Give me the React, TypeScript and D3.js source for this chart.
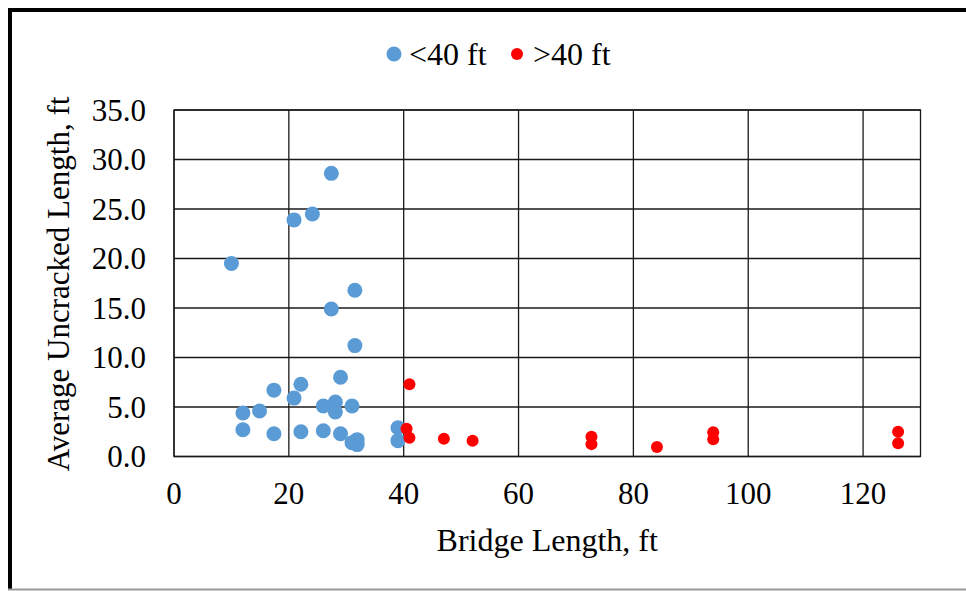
import { useRef, useEffect } from 'react'
import * as d3 from 'd3'

// <40 ft bridges
const shortX = [27.4, 24.1, 20.9, 10.0, 31.5, 27.4, 31.5, 29.0, 22.1, 17.4, 20.9, 14.9, 12.0, 26.0, 28.1, 28.1, 31.0, 12.0, 17.4, 22.1, 26.0, 29.0, 31.0, 31.9, 31.9, 39.0, 39.0]
const shortY = [28.6, 24.5, 23.9, 19.5, 16.8, 14.9, 11.2, 8.0, 7.3, 6.7, 5.9, 4.6, 4.4, 5.1, 5.5, 4.5, 5.1, 2.7, 2.3, 2.5, 2.6, 2.3, 1.4, 1.7, 1.2, 2.9, 1.6]

// >40 ft bridges
const longX = [41.0, 40.5, 41.0, 47.0, 52.0, 72.7, 72.7, 84.1, 93.9, 93.9, 126.1, 126.1]
const longY = [7.3, 2.8, 1.9, 1.8, 1.6, 2.0, 1.25, 0.95, 2.45, 1.75, 2.5, 1.35]

const xTicks = [0, 20, 40, 60, 80, 100, 120]
const yTicks = [0, 5, 10, 15, 20, 25, 30, 35]

const FONT = '"Liberation Serif", "Times New Roman", serif'

export default function App() {
  const svgRef = useRef<SVGSVGElement>(null)

  useEffect(() => {
    if (!svgRef.current) return
    const w = 966
    const h = 591
    const left = 174
    const right = 920.5
    const top = 110
    const bottom = 456.5

    const svg = d3.select(svgRef.current)
    svg.selectAll('*').remove()
    svg.attr('width', w).attr('height', h)

    svg.append('rect').attr('width', w).attr('height', h).attr('fill', '#fff')

    // outer frame (top + left dark, bottom grey)
    svg.append('line').attr('x1', 8).attr('x2', w).attr('y1', 10).attr('y2', 10)
      .attr('stroke', '#000').attr('stroke-width', 4)
    svg.append('line').attr('x1', 10).attr('x2', 10).attr('y1', 8).attr('y2', 589)
      .attr('stroke', '#000').attr('stroke-width', 4)
    svg.append('line').attr('x1', 8).attr('x2', w).attr('y1', 589.5).attr('y2', 589.5)
      .attr('stroke', '#999').attr('stroke-width', 2)

    const x = d3.scaleLinear().domain([0, 130]).range([left, right])
    const y = d3.scaleLinear().domain([0, 35]).range([bottom, top])

    // gridlines
    svg.append('g')
      .selectAll('line')
      .data(xTicks)
      .join('line')
      .attr('x1', (d) => x(d)).attr('x2', (d) => x(d))
      .attr('y1', top).attr('y2', bottom)
      .attr('stroke', '#1a1a1a').attr('stroke-width', 1.3)

    svg.append('g')
      .selectAll('line')
      .data(yTicks)
      .join('line')
      .attr('x1', left).attr('x2', right)
      .attr('y1', (d) => y(d)).attr('y2', (d) => y(d))
      .attr('stroke', '#1a1a1a').attr('stroke-width', 1.3)

    svg.append('rect')
      .attr('x', left).attr('y', top)
      .attr('width', right - left).attr('height', bottom - top)
      .attr('fill', 'none').attr('stroke', '#1a1a1a').attr('stroke-width', 1.3)

    // tick labels
    svg.append('g')
      .selectAll('text')
      .data(yTicks)
      .join('text')
      .attr('x', 146)
      .attr('y', (d) => y(d))
      .attr('dy', '0.35em')
      .attr('text-anchor', 'end')
      .attr('font-family', FONT)
      .attr('font-size', 31)
      .text((d) => d3.format('.1f')(d))

    svg.append('g')
      .selectAll('text')
      .data(xTicks)
      .join('text')
      .attr('x', (d) => x(d))
      .attr('y', 493)
      .attr('dy', '0.35em')
      .attr('text-anchor', 'middle')
      .attr('font-family', FONT)
      .attr('font-size', 31)
      .text((d) => String(d))

    // axis titles
    svg.append('text')
      .attr('x', (left + right) / 2)
      .attr('y', 540)
      .attr('dy', '0.35em')
      .attr('text-anchor', 'middle')
      .attr('font-family', FONT)
      .attr('font-size', 32)
      .text('Bridge Length, ft')

    svg.append('text')
      .attr('transform', `translate(58,${284}) rotate(-90)`)
      .attr('dy', '0.35em')
      .attr('text-anchor', 'middle')
      .attr('font-family', FONT)
      .attr('font-size', 31)
      .text('Average Uncracked Length, ft')

    // points
    const shortPts = shortX.map((v, i) => [v, shortY[i]])
    const longPts = longX.map((v, i) => [v, longY[i]])

    svg.append('g')
      .selectAll('circle')
      .data(shortPts)
      .join('circle')
      .attr('cx', (d) => x(d[0]))
      .attr('cy', (d) => y(d[1]))
      .attr('r', 7.5)
      .attr('fill', '#5B9BD5')

    svg.append('g')
      .selectAll('circle')
      .data(longPts)
      .join('circle')
      .attr('cx', (d) => x(d[0]))
      .attr('cy', (d) => y(d[1]))
      .attr('r', 6)
      .attr('fill', '#FF0000')

    // legend
    const lg = svg.append('g').attr('font-family', FONT).attr('font-size', 32)
    lg.append('circle').attr('cx', 394).attr('cy', 54).attr('r', 7.5).attr('fill', '#5B9BD5')
    lg.append('text').attr('x', 409).attr('y', 54).attr('dy', '0.35em').text('<40 ft')
    lg.append('circle').attr('cx', 517).attr('cy', 54).attr('r', 6).attr('fill', '#FF0000')
    lg.append('text').attr('x', 533).attr('y', 54).attr('dy', '0.35em').text('>40 ft')
  }, [])

  return (
    <div style={{ position: 'absolute', left: 0, top: 0 }}>
      <svg ref={svgRef} style={{ display: 'block' }} />
    </div>
  )
}
